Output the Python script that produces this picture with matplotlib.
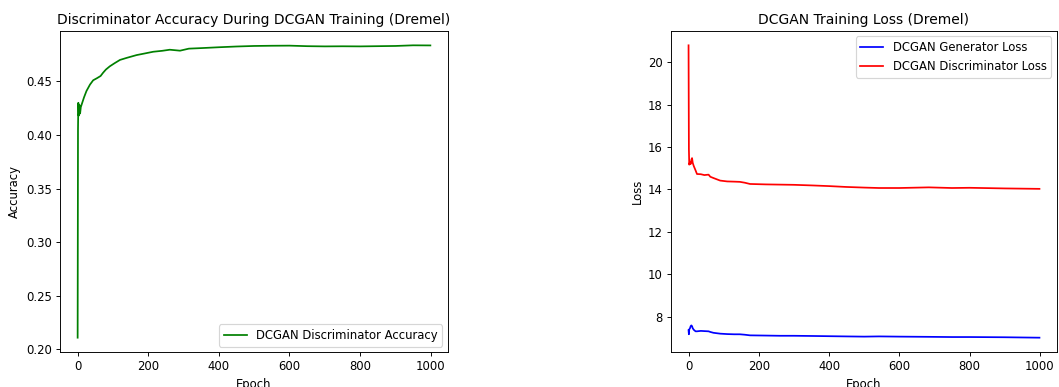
import matplotlib.pyplot as plt

acc_epochs = [0, 1, 2, 3, 5, 7, 9, 13, 18, 25,
              35, 44, 55, 65, 72, 80, 91, 105, 120, 140,
              167, 190, 214, 240, 261, 290, 315, 350, 400, 450,
              500, 550, 600, 650, 700, 750, 800, 850, 900, 950, 999]
acc = [0.211, 0.405, 0.430, 0.418, 0.428, 0.420, 0.426, 0.430, 0.435, 0.441,
       0.447, 0.451, 0.453, 0.455, 0.458, 0.461, 0.464, 0.467, 0.470, 0.472,
       0.4745, 0.476, 0.4776, 0.4785, 0.4795, 0.4786, 0.4805, 0.481, 0.4818, 0.4825,
       0.483, 0.4832, 0.4833, 0.4828, 0.4826, 0.4827, 0.4826, 0.4828, 0.483, 0.4836, 0.4835]

# Generator / discriminator loss
loss_epochs = [0, 1, 2, 4, 6, 8, 10, 12, 15, 20, 24, 35, 45, 57, 62, 71, 90, 110,
               130, 146, 160, 175, 220, 260, 300, 354, 400, 448, 500, 542, 600, 684,
               750, 800, 900, 999]
d_loss = [20.8, 15.9, 15.17, 15.3, 15.2, 15.4, 15.48, 15.25, 15.1, 14.9, 14.73, 14.72,
          14.68, 14.70, 14.6, 14.54, 14.42, 14.38, 14.37, 14.36, 14.32, 14.26, 14.24,
          14.23, 14.22, 14.19, 14.16, 14.12, 14.09, 14.07, 14.07, 14.1, 14.07, 14.08,
          14.05, 14.03]
g_loss = [7.36, 7.17, 7.40, 7.45, 7.55, 7.59, 7.55, 7.45, 7.38, 7.31, 7.31, 7.33,
          7.32, 7.31, 7.28, 7.24, 7.20, 7.18, 7.17, 7.17, 7.15, 7.12, 7.11, 7.10,
          7.10, 7.09, 7.08, 7.07, 7.06, 7.07, 7.06, 7.05, 7.04, 7.04, 7.03, 7.01]

# reference looks like a downscaled render, so use a lower dpi
dpi = 83.4
fig = plt.figure(figsize=(1059 / dpi, 387 / dpi), dpi=dpi)
ax1 = fig.add_axes([60 / 1059, 1 - 352.3 / 387, 388 / 1059, 321.6 / 387])
ax2 = fig.add_axes([671 / 1059, 1 - 352.3 / 387, 386 / 1059, 321.6 / 387])

ax1.plot(acc_epochs, acc, color="green", label="DCGAN Discriminator Accuracy")
ax1.set_title("Discriminator Accuracy During DCGAN Training (Dremel)")
ax1.set_xlabel("Epoch")
ax1.set_ylabel("Accuracy")
ax1.legend(loc="lower right")

ax2.plot(loss_epochs, g_loss, color="blue", label="DCGAN Generator Loss")
ax2.plot(loss_epochs, d_loss, color="red", label="DCGAN Discriminator Loss")
ax2.set_title("DCGAN Training Loss (Dremel)")
ax2.set_xlabel("Epoch")
ax2.set_ylabel("Loss")
ax2.legend(loc="upper right")

plt.savefig("out.png", dpi=dpi)
